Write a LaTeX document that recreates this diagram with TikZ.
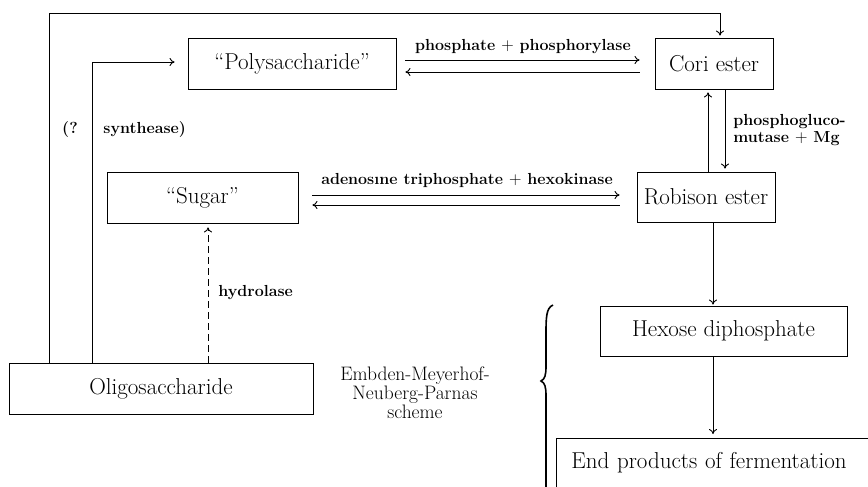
\documentclass[tikz,border=0pt]{standalone}
\usetikzlibrary{arrows.meta}
\begin{document}
\begin{tikzpicture}[x=1pt,y=-1pt,
  line width=0.9pt,
  >={To[length=5pt,width=8pt]},
  box/.style={draw, inner sep=0pt, font=\fontsize{23}{25}\selectfont},
  lab/.style={inner sep=0pt, font=\fontsize{16}{16.5}\selectfont\bfseries},
  every node/.append style={text=black}]
\useasboundingbox (0,0) rectangle (868,487);
% boxes
\node[box, minimum width=208pt, minimum height=51pt] (poly) at (292,63.5) {``Polysaccharide''};
\node[box, minimum width=118pt, minimum height=51pt] (cori) at (714,63.5) {Cori ester};
\node[box, minimum width=191pt, minimum height=51pt] (sugar) at (202.5,197.5) {``Sugar''};
\node[box, minimum width=138pt, minimum height=50pt] (robison) at (706,197) {Robison ester};
\node[box, minimum width=304pt, minimum height=51pt] (oligo) at (161,388.5) {Oligosaccharide};
\node[box, minimum width=247pt, minimum height=50pt] (hexose) at (723.5,331) {Hexose diphosphate};
\node[box, anchor=north west, minimum width=330pt, minimum height=60pt,
      align=left, text width=300pt, inner xsep=13pt, inner ysep=0pt, text depth=28pt, text height=29pt] (endp) at (556,438) {End products of fermentation};
% helper coordinates
\coordinate (xa) at (49,0);
\coordinate (xb) at (92,0);
\coordinate (xc) at (720,13);
\coordinate (xd) at (208,0);
\coordinate (xe) at (708,0);
\coordinate (xf) at (725,0);
\coordinate (xg) at (713,0);
\coordinate (ya) at (0,60);
\coordinate (yb) at (0,72);
\coordinate (yc) at (0,195);
\coordinate (yd) at (0,205);
\coordinate (ye) at (0,62);
% outer loop to Cori ester
\draw[->, shorten >=2pt] (oligo.north -| xa) |- (xc) -- (cori.north -| xc);
% synthease path
\draw[->, shorten >=13pt] (oligo.north -| xb) |- (poly.west |- ye);
% phosphorylase arrows
\draw[->, shorten <=9pt, shorten >=15pt] (poly.east |- ya) -- (cori.west |- ya);
\draw[->, shorten <=15pt, shorten >=9pt] (cori.west |- yb) -- (poly.east |- yb);
% hexokinase arrows
\draw[->, shorten <=14pt, shorten >=17pt] (sugar.east |- yc) -- (robison.west |- yc);
\draw[->, shorten <=17pt, shorten >=14pt] (robison.west |- yd) -- (sugar.east |- yd);
% mutase arrows
\draw[->, shorten >=3pt] (robison.north -| xe) -- (cori.south -| xe);
\draw[->, shorten >=3pt] (cori.south -| xf) -- (robison.north -| xf);
% hydrolase
\draw[->, dash pattern=on 7pt off 4pt, shorten >=4pt] (oligo.north -| xd) -- (sugar.south -| xd);
% fermentation chain
\draw[->, shorten >=1pt] (robison.south -| xg) -- (hexose.north -| xg);
\draw[->, shorten >=4pt] (hexose.south -| xg) -- (endp.north -| xg);
% labels
\node[lab] (lphos) at (523,47) {phosphate $\mathbf{+}$ phosphorylase};
\node[lab] (latp) at (467,180) {adenos\i ne triphosphate $\mathbf{+}$ hexokinase};
\node[lab, anchor=west, align=left] (lmut) at (733,130) {phosphogluco-\\mutase $\mathbf{+}$ Mg};
\node[lab, anchor=west] (lhyd) at (218,293) {hydrolase};
\node[lab] (lq) at (70,130) {(?};
\node[lab, anchor=west] (lsyn) at (103,130) {synthease)};
\node[inner sep=0pt, align=center, font=\fontsize{19.5}{19}\selectfont] (lemb) at (415,393) {Embden-Meyerhof-\\Neuberg-Parnas\\scheme};
% brace
\draw[line width=1.6pt] (553,305) .. controls (546,308) and (546,318) .. (546,335)
  -- (546,366) .. controls (546,375) and (545,379) .. (541,381)
  .. controls (545,383) and (546,387) .. (546,396) -- (546,495);
\end{tikzpicture}
\end{document}
